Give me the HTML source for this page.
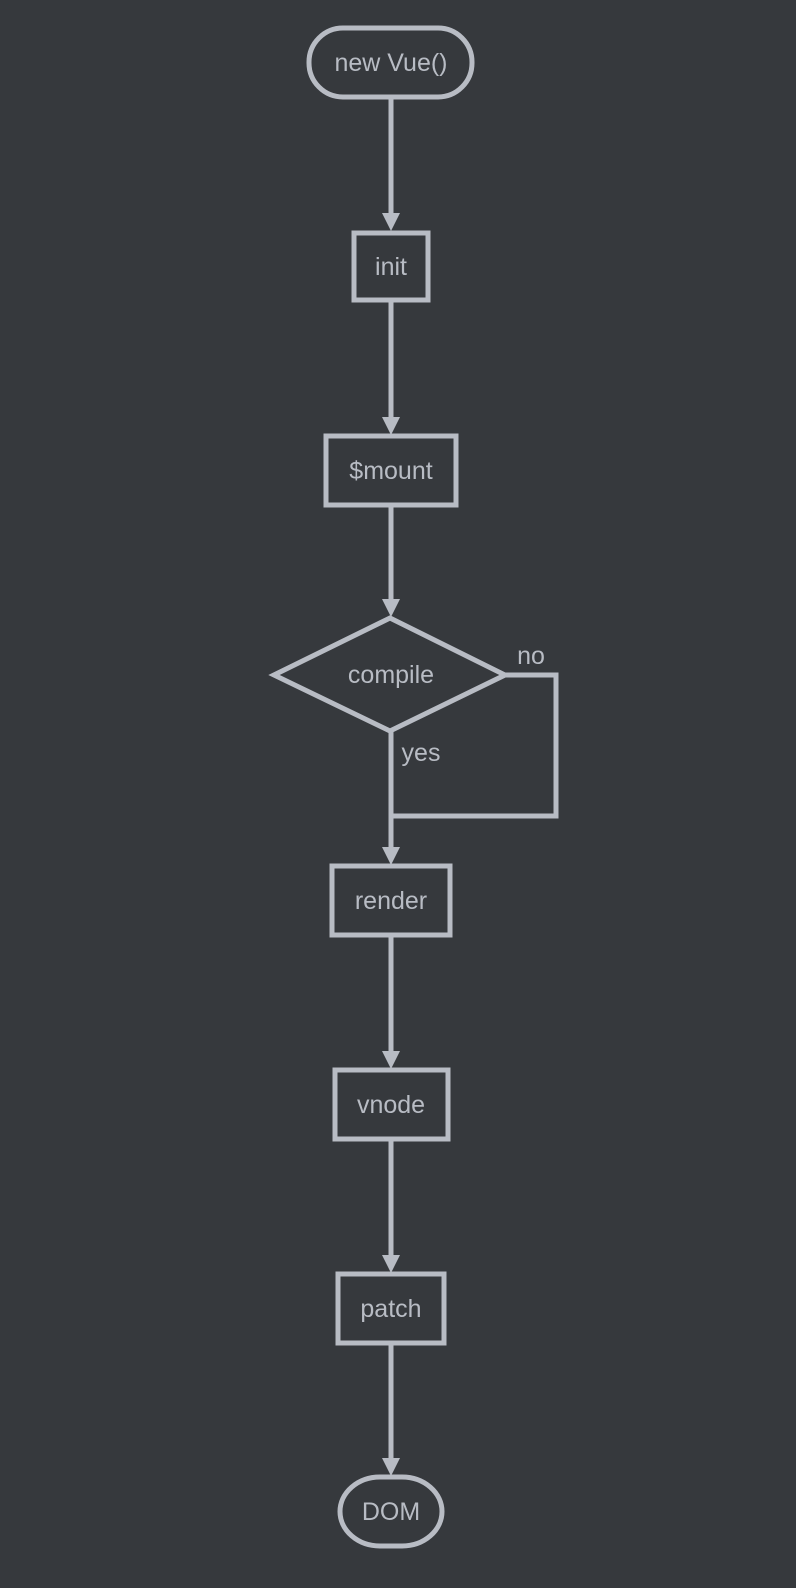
<!DOCTYPE html>
<html><head><meta charset="utf-8"><style>
html,body{margin:0;padding:0;background:#36393d;}
svg{display:block}
text{font-family:"Liberation Sans",sans-serif;font-size:25px;fill:#b8bcc4;}
</style></head><body>
<svg width="796" height="1588" viewBox="0 0 796 1588" xmlns="http://www.w3.org/2000/svg">
<rect width="796" height="1588" fill="#36393d"/>
<g stroke="#b8bcc4" stroke-width="5" fill="none">
<rect x="309" y="28" width="163" height="69" rx="34"/>
<rect x="354" y="233" width="74" height="67"/>
<rect x="326" y="436" width="130" height="69"/>
<polygon points="390,618 505,675 390,731 274,675"/>
<rect x="332" y="866" width="118" height="69"/>
<rect x="335" y="1070" width="113" height="69"/>
<rect x="338" y="1274" width="106" height="69"/>
<rect x="340" y="1477" width="102" height="69" rx="40"/>
<line x1="391" y1="97" x2="391" y2="220"/>
<line x1="391" y1="300" x2="391" y2="424"/>
<line x1="391" y1="505" x2="391" y2="606"/>
<line x1="391" y1="731" x2="391" y2="854"/>
<polyline points="505,675 556,675 556,816 391,816"/>
<line x1="391" y1="935" x2="391" y2="1058"/>
<line x1="391" y1="1139" x2="391" y2="1262"/>
<line x1="391" y1="1343" x2="391" y2="1465"/>
</g>
<g fill="#b8bcc4">
<polygon points="382,213 400,213 391,231"/>
<polygon points="382,417 400,417 391,435"/>
<polygon points="382,599 400,599 391,617"/>
<polygon points="382,847 400,847 391,865"/>
<polygon points="382,1051 400,1051 391,1069"/>
<polygon points="382,1255 400,1255 391,1273"/>
<polygon points="382,1458 400,1458 391,1476"/>
</g>
<g text-anchor="middle">
<text x="391" y="71">new Vue()</text>
<text x="391" y="275">init</text>
<text x="391" y="479">$mount</text>
<text x="391" y="683">compile</text>
<text x="391" y="909">render</text>
<text x="391" y="1113">vnode</text>
<text x="391" y="1317">patch</text>
<text x="391" y="1520">DOM</text>
<text x="531" y="664">no</text>
<text x="421" y="761">yes</text>
</g>
</svg>
</body></html>
